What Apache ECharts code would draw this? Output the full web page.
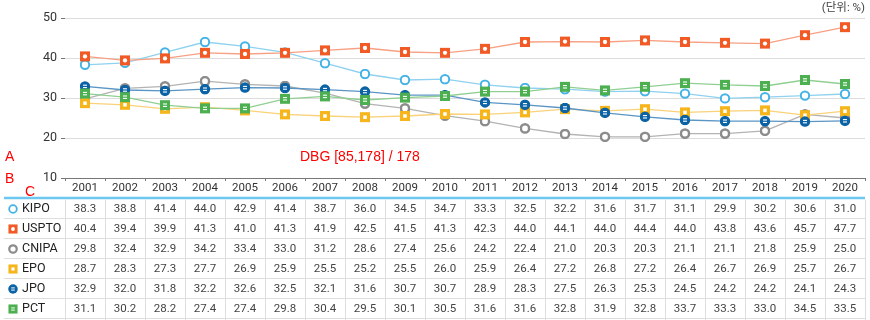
<!DOCTYPE html>
<html><head><meta charset="utf-8">
<script src="https://cdn.jsdelivr.net/npm/echarts@6/dist/echarts.min.js"></script>
<style>html,body{margin:0;padding:0;background:#fff}#c{width:870px;height:320px}</style>
</head><body><div id="c"></div>
<script>
const years = ['2001','2002','2003','2004','2005','2006','2007','2008','2009','2010','2011','2012','2013','2014','2015','2016','2017','2018','2019','2020'];
const seriesNames = ['KIPO','USPTO','CNIPA','EPO','JPO','PCT'];
const kipo  = [38.3,38.8,41.4,44.0,42.9,41.4,38.7,36.0,34.5,34.7,33.3,32.5,32.2,31.6,31.7,31.1,29.9,30.2,30.6,31.0];
const uspto = [40.4,39.4,39.9,41.3,41.0,41.3,41.9,42.5,41.5,41.3,42.3,44.0,44.1,44.0,44.4,44.0,43.8,43.6,45.7,47.7];
const cnipa = [29.8,32.4,32.9,34.2,33.4,33.0,31.2,28.6,27.4,25.6,24.2,22.4,21.0,20.3,20.3,21.1,21.1,21.8,25.9,25.0];
const epo   = [28.7,28.3,27.3,27.7,26.9,25.9,25.5,25.2,25.5,26.0,25.9,26.4,27.2,26.8,27.2,26.4,26.7,26.9,25.7,26.7];
const jpo   = [32.9,32.0,31.8,32.2,32.6,32.5,32.1,31.6,30.7,30.7,28.9,28.3,27.5,26.3,25.3,24.5,24.2,24.2,24.1,24.3];
const pct   = [31.1,30.2,28.2,27.4,27.4,29.8,30.4,29.5,30.1,30.5,31.6,31.6,32.8,31.9,32.8,33.7,33.3,33.0,34.5,33.5];
const yMin = 10, yMax = 50, yStep = 10;
const unitLabel = '(단위: %)';

const allData = [kipo, uspto, cnipa, epo, jpo, pct];
const colors = ['#45b3e5','#f15a24','#8c8c8c','#f6b51b','#0b63a5','#4caf50'];
const lineColors = ['#8fd1ef','#f7a083','#b3b3b3','#f9d27a','#5a95c4','#90cf92'];

function svgUri(s){ return 'image://data:image/svg+xml;charset=utf-8,' + encodeURIComponent(s); }
function symSvg(i){
  const c = colors[i];
  const h = '<svg xmlns="http://www.w3.org/2000/svg" width="22" height="22" viewBox="0 0 22 22">';
  let b='';
  if(i===0) b = '<circle cx="11" cy="11" r="8.4" fill="#fff" stroke="'+c+'" stroke-width="4"/>';
  if(i===1) b = '<rect x="1" y="1" width="20" height="20" fill="'+c+'"/><circle cx="11" cy="11" r="4.3" fill="#fff"/>';
  if(i===2) b = '<circle cx="11" cy="11" r="8.2" fill="#fff" stroke="'+c+'" stroke-width="5"/>';
  if(i===3) b = '<rect x="1" y="1" width="20" height="20" fill="'+c+'"/><rect x="7.5" y="7.5" width="7" height="7" fill="#fff"/>';
  if(i===4) b = '<circle cx="11" cy="11" r="10.5" fill="'+c+'"/><rect x="7" y="7.5" width="8" height="2.2" fill="#fff"/><rect x="7" y="12.3" width="8" height="2.2" fill="#fff"/>';
  if(i===5) b = '<rect x="1" y="1" width="20" height="20" fill="'+c+'"/><rect x="7" y="7.5" width="8" height="2.2" fill="#fff"/><rect x="7" y="12.3" width="8" height="2.2" fill="#fff"/>';
  return h + b + '</svg>';
}
const symSizes = [11,11,11,11,11,11];

const chart = echarts.init(document.getElementById('c'), null, {renderer:'canvas'});
const FONT = 'Roboto, "Noto Sans CJK KR", sans-serif';

const option = {
  animation:false,
  textStyle:{fontFamily:FONT},
  grid:{left:65, right:5, top:18, bottom:142},
  xAxis:{
    type:'category', data:years, boundaryGap:true,
    axisLine:{show:true, lineStyle:{color:'#777', width:1}},
    axisTick:{show:true, length:3, inside:false, lineStyle:{color:'#777'}},
    axisLabel:{color:'#333', fontSize:11.5, margin:4, fontFamily:FONT},
    splitLine:{show:false}
  },
  yAxis:{
    type:'value', min:yMin, max:yMax, interval:yStep,
    axisLine:{show:false},
    axisTick:{show:true, length:4, lineStyle:{color:'#777'}},
    axisLabel:{color:'#333', fontSize:12.5, margin:8, fontFamily:FONT, showMinLabel:true, showMaxLabel:true},
    splitLine:{show:true, lineStyle:{color:'#dcdcdc', width:1}}
  },
  series: allData.map((d,i)=>({
    name:seriesNames[i], type:'line', data:d,
    symbol: svgUri(symSvg(i)), symbolSize: symSizes[i], showSymbol:true,
    lineStyle:{color:lineColors[i], width:1.3},
    itemStyle:{color:colors[i]},
    z: 2+i
  }))
};
chart.setOption(option);

const g = [];
const R = 865, X0 = 4;
let dbg = '';
try { dbg = JSON.stringify(chart.convertToPixel({seriesIndex:0}, [0, yMin])) + ' / ' + JSON.stringify(chart.convertToPixel({yAxisIndex:0}, yMin)); } catch(e) { dbg = 'ERR ' + e.message; }
g.push({type:'text', left:300, top:150, z:200, style:{text:'DBG '+dbg, fontSize:14, fill:'#f00'}});
g.push({type:'text', left:5, top:150, z:200, style:{text:'A', fontSize:14, fill:'#f00'}});
g.push({type:'text', left:5, top:172, z:200, style:{text:'B', fontSize:14, fill:'#f00'}});
g.push({type:'text', left:25, top:185, z:200, style:{text:'C', fontSize:14, fill:'#f00'}});
g.push({type:'text', right:5, top:2, style:{text:unitLabel, fontSize:11.5, fill:'#444', fontFamily:FONT}});
const rowTop = 199, rowH = 20;
g.push({type:'line', shape:{x1:X0, y1:198, x2:R, y2:198}, style:{stroke:'#6cc8f0', lineWidth:2.5}});
for(let r=0;r<6;r++){
  const y = rowTop + rowH*(r+1);
  g.push({type:'line', shape:{x1:X0, y1:y-0.5, x2:R, y2:y-0.5}, style:{stroke:'#dedede', lineWidth:1}});
}
const bounds = [];
for(let i=0;i<=years.length;i++){
  const px = i<years.length ? chart.convertToPixel({xAxisIndex:0}, years[i]) - 20 : chart.convertToPixel({xAxisIndex:0}, years[years.length-1]) + 20;
  bounds.push(px);
}
bounds.forEach(px=>{
  g.push({type:'line', shape:{x1:Math.round(px)+0.5, y1:199.5, x2:Math.round(px)+0.5, y2:320}, style:{stroke:'#dedede', lineWidth:1}});
});
for(let r=0;r<6;r++){
  const cy = rowTop + rowH*r + 10;
  g.push({type:'image', style:{image:'data:image/svg+xml;charset=utf-8,'+encodeURIComponent(symSvg(r)), x:8, y:cy-5, width:10, height:10}});
  g.push({type:'text', style:{text:seriesNames[r], x:22, y:cy, textVerticalAlign:'middle', verticalAlign:'middle', fontSize:12.5, fill:'#222', fontFamily:FONT}});
  allData[r].forEach((v,i)=>{
    const px = chart.convertToPixel({xAxisIndex:0}, years[i]);
    g.push({type:'text', style:{text:v.toFixed(1), x:px, y:cy, textAlign:'center', align:'center', textVerticalAlign:'middle', verticalAlign:'middle', fontSize:11.5, fill:'#444', fontFamily:FONT}});
  });
}
chart.setOption({graphic:{elements:g}});
</script></body></html>
